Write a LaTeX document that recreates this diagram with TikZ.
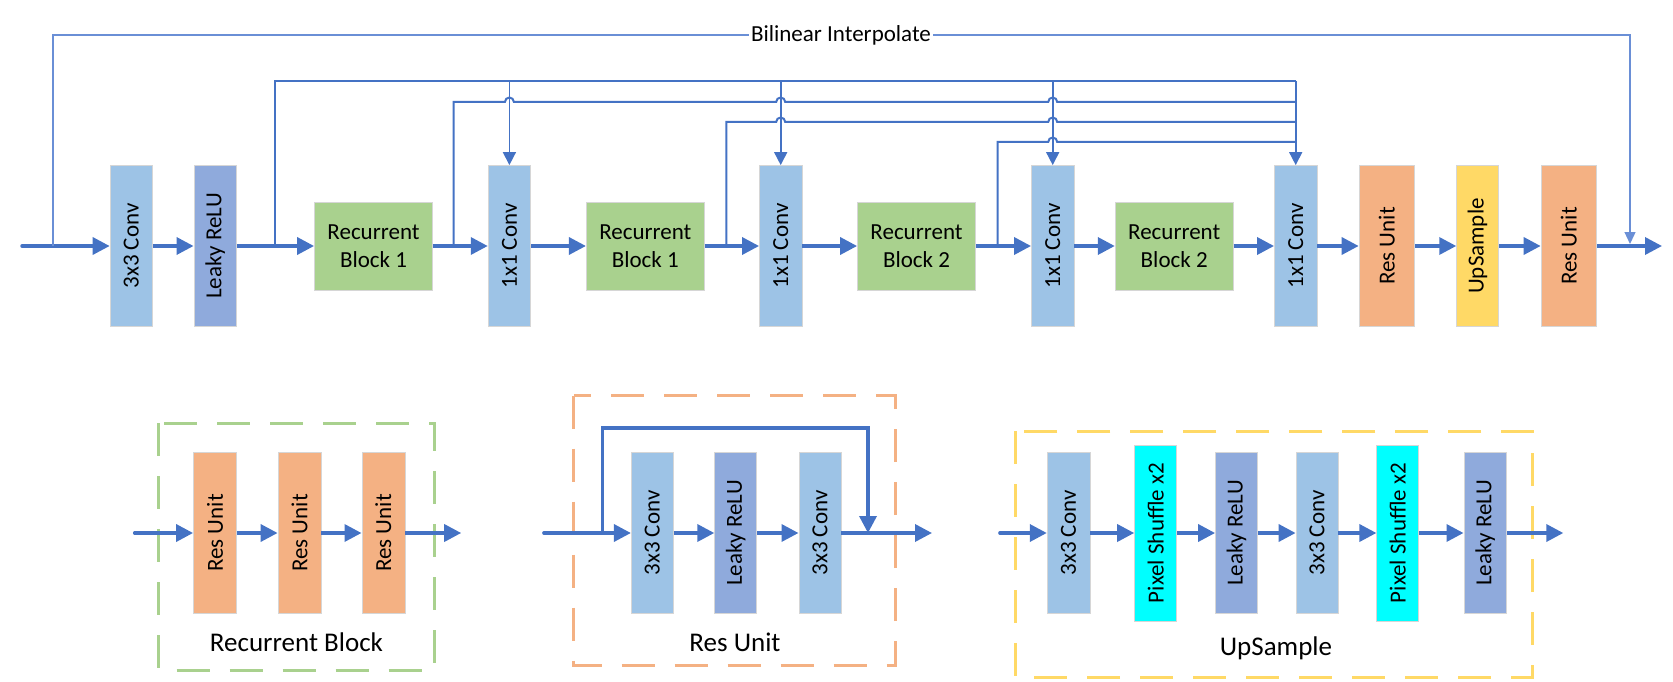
\documentclass[tikz,border=0pt]{standalone}
\usepackage{fontspec}
\setmainfont{Carlito}
\usepackage{graphicx}
\usetikzlibrary{arrows.meta}
\definecolor{lb}{HTML}{4472C4}
\definecolor{thinb}{HTML}{6A8FD6}
\definecolor{convc}{HTML}{9DC3E6}
\definecolor{reluc}{HTML}{8FAADC}
\definecolor{rbc}{HTML}{A9D18E}
\definecolor{resc}{HTML}{F4B183}
\definecolor{upc}{HTML}{FFD966}
\definecolor{psc}{HTML}{00FFFF}
\definecolor{bord}{HTML}{D6D6D6}
\tikzset{
  box/.style={draw=bord, line width=0.8pt, inner sep=0pt, minimum width=42.5pt, minimum height=161pt, font=\fontsize{23}{27}\selectfont},
  conv/.style={box, fill=convc},
  relu/.style={box, fill=reluc},
  rblk/.style={box, fill=rbc, minimum width=118pt, minimum height=88pt, align=center, font=\fontsize{23}{28}\selectfont},
  resu/.style={box, fill=resc, minimum width=55.7pt},
  ups/.style={box, fill=upc, minimum width=41.7pt},
  psh/.style={box, fill=psc, minimum width=42pt, minimum height=176pt},
  mainarr/.style={draw=lb, line width=3.5pt, -{Triangle[length=17pt,width=17pt]}},
  skipline/.style={draw=lb, line width=2pt},
  skiparr/.style={draw=lb, line width=1.6pt, -{Triangle[length=13pt,width=13pt]}},
  bil/.style={draw=thinb, line width=1.3pt, -{Triangle[length=12pt,width=11pt]}},
  lbl/.style={font=\fontsize{23}{27}\selectfont, text=black},
  biglbl/.style={font=\fontsize{27}{31}\selectfont, text=black},
  dashbox/.style={line width=3pt, dash pattern=on 33pt off 20pt},
}
\begin{document}
\begin{tikzpicture}[x=1pt,y=1pt]
\useasboundingbox (0,0) rectangle (1673,-682);
% ---------------- top row ----------------
\node[conv] (c1) at (131.3,-246) {\rotatebox{90}{3x3 Conv}};
\node[relu] (lr) at (215.2,-246) {\rotatebox{90}{Leaky ReLU}};
\node[rblk] (rb1) at (373.5,-246) {Recurrent\\Block 1};
\node[conv] (cv1) at (509.4,-246) {\rotatebox{90}{1x1 Conv}};
\node[rblk] (rb2) at (645.3,-246) {Recurrent\\Block 1};
\node[conv] (cv2) at (780.7,-246) {\rotatebox{90}{1x1 Conv}};
\node[rblk] (rb3) at (916.5,-246) {Recurrent\\Block 2};
\node[conv] (cv3) at (1052.7,-246) {\rotatebox{90}{1x1 Conv}};
\node[rblk] (rb4) at (1174.2,-246) {Recurrent\\Block 2};
\node[conv] (cv4) at (1295.7,-246) {\rotatebox{90}{1x1 Conv}};
\node[resu] (ru1) at (1386.9,-246) {\rotatebox{90}{Res Unit}};
\node[ups] (up) at (1477.5,-246) {\rotatebox{90}{UpSample}};
\node[resu] (ru2) at (1568.9,-246) {\rotatebox{90}{Res Unit}};
\coordinate (in) at (22,-246);
\coordinate (out) at (1662,-246);
\coordinate (y35) at (0,-35);
\coordinate (y81) at (0,-81);
\coordinate (y102) at (0,-102);
\coordinate (y122) at (0,-122);
\coordinate (y142) at (0,-142);
\coordinate (s1b) at (274.6,-246);
\coordinate (s2b) at (453.6,-246);
\coordinate (s3b) at (726.4,-246);
\coordinate (s4b) at (997.5,-246);
\coordinate (bl1) at (52.9,-246);
\coordinate (bl2) at (1630,-244);
% main chain
\draw[mainarr, line cap=round] (in) -- (c1.west);
\draw[mainarr] (c1.east) -- (lr.west);
\draw[mainarr] (lr.east) -- (rb1.west);
\draw[mainarr] (rb1.east) -- (cv1.west);
\draw[mainarr] (cv1.east) -- (rb2.west);
\draw[mainarr] (rb2.east) -- (cv2.west);
\draw[mainarr] (cv2.east) -- (rb3.west);
\draw[mainarr] (rb3.east) -- (cv3.west);
\draw[mainarr] (cv3.east) -- (rb4.west);
\draw[mainarr] (rb4.east) -- (cv4.west);
\draw[mainarr] (cv4.east) -- (ru1.west);
\draw[mainarr] (ru1.east) -- (up.west);
\draw[mainarr] (up.east) -- (ru2.west);
\draw[mainarr] (ru2.east) -- (out);
% skip connections
\draw[skipline] (s1b) |- (cv4.north |- y81);
\draw[skipline] (s2b) |- (504.9,-102) arc[start angle=180,end angle=0,radius=4.5]
   -- (776.2,-102) arc[start angle=180,end angle=0,radius=4.5]
   -- (1048.2,-102) arc[start angle=180,end angle=0,radius=4.5]
   -- (cv4.north |- y102);
\draw[skipline] (s3b) |- (776.2,-122) arc[start angle=180,end angle=0,radius=4.5]
   -- (1048.2,-122) arc[start angle=180,end angle=0,radius=4.5]
   -- (cv4.north |- y122);
\draw[skipline] (s4b) |- (1048.2,-142) arc[start angle=180,end angle=0,radius=4.5]
   -- (cv4.north |- y142);
\draw[skiparr] (cv1.north |- y81) -- (cv1.north);
\draw[skiparr] (cv2.north |- y81) -- (cv2.north);
\draw[skiparr] (cv3.north |- y81) -- (cv3.north);
\draw[skiparr] (cv4.north |- y81) -- (cv4.north);
% bilinear
\draw[bil] (bl1) |- (bl2 |- y35) -- (bl2);
\node[lbl, fill=white, inner sep=2pt] (bi) at (841,-35) {Bilinear Interpolate};
% ---------------- Recurrent Block detail ----------------
\draw[dashbox, draw=rbc] (158.7,-423) rectangle (434.2,-670);
\node[resu, minimum width=43pt] (r1) at (215,-533) {\rotatebox{90}{Res Unit}};
\node[resu, minimum width=43pt] (r2) at (299.5,-533) {\rotatebox{90}{Res Unit}};
\node[resu, minimum width=43pt] (r3) at (383.4,-533) {\rotatebox{90}{Res Unit}};
\coordinate (rbin) at (134.7,-533);
\coordinate (rbout) at (461.2,-533);
\draw[mainarr, line cap=round] (rbin) -- (r1.west);
\draw[mainarr] (r1.east) -- (r2.west);
\draw[mainarr] (r2.east) -- (r3.west);
\draw[mainarr] (r3.east) -- (rbout);
\node[biglbl] (rbl) at (296.5,-642) {Recurrent Block};
% ---------------- Res Unit detail ----------------
\draw[dashbox, draw=resc] (573.5,-395.5) rectangle (895,-665.5);
\node[conv, minimum width=42pt] (a1) at (652.3,-533) {\rotatebox{90}{3x3 Conv}};
\node[relu, minimum width=42pt] (a2) at (735.7,-533) {\rotatebox{90}{Leaky ReLU}};
\node[conv, minimum width=42pt] (a3) at (819.9,-533) {\rotatebox{90}{3x3 Conv}};
\coordinate (ruin) at (543.9,-533);
\coordinate (ruout) at (932,-533);
\coordinate (rsk) at (602.6,-533);
\coordinate (rsk2) at (868,-533);
\coordinate (y428) at (0,-428);
\draw[mainarr, line cap=round] (ruin) -- (a1.west);
\draw[mainarr] (a1.east) -- (a2.west);
\draw[mainarr] (a2.east) -- (a3.west);
\draw[mainarr] (a3.east) -- (ruout);
\draw[mainarr] (rsk) |- (rsk2 |- y428) -- (rsk2);
\node[biglbl] (rul) at (735,-642) {Res Unit};
% ---------------- UpSample detail ----------------
\draw[dashbox, draw=upc] (1015.4,-431) rectangle (1532.4,-677);
\node[conv, minimum width=42.8pt] (u1) at (1068.6,-533) {\rotatebox{90}{3x3 Conv}};
\node[psh] (u2) at (1155.6,-533) {\rotatebox{90}{Pixel Shuffle x2}};
\node[relu, minimum width=42pt] (u3) at (1236.5,-533) {\rotatebox{90}{Leaky ReLU}};
\node[conv, minimum width=42pt] (u4) at (1317,-533) {\rotatebox{90}{3x3 Conv}};
\node[psh] (u5) at (1397.8,-533) {\rotatebox{90}{Pixel Shuffle x2}};
\node[relu, minimum width=42.8pt] (u6) at (1485.3,-533) {\rotatebox{90}{Leaky ReLU}};
\coordinate (upin) at (999.9,-533);
\coordinate (upout) at (1563.3,-533);
\draw[mainarr, line cap=round] (upin) -- (u1.west);
\draw[mainarr] (u1.east) -- (u2.west);
\draw[mainarr] (u2.east) -- (u3.west);
\draw[mainarr] (u3.east) -- (u4.west);
\draw[mainarr] (u4.east) -- (u5.west);
\draw[mainarr] (u5.east) -- (u6.west);
\draw[mainarr] (u6.east) -- (upout);
\node[biglbl] (upl) at (1276,-648) {UpSample};
\end{tikzpicture}
\end{document}
